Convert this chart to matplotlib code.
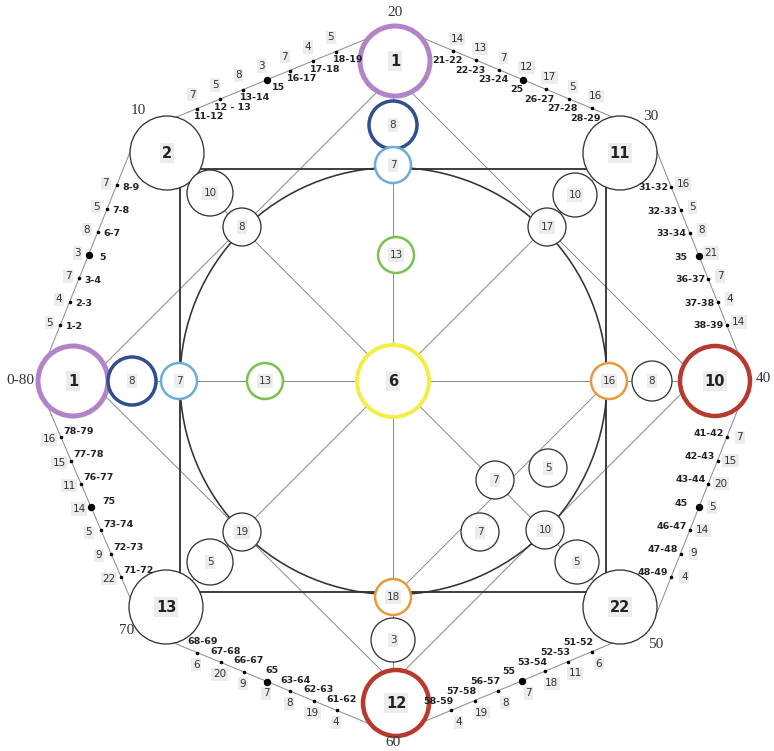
import matplotlib
matplotlib.use("Agg")
import matplotlib.pyplot as plt
from matplotlib.patches import Circle, Rectangle, Polygon

W, H = 774, 751

# values on the outer octagon, one list per decade, in age order
vals_0_10 = [5, 4, 7, 3, 8, 5, 7]
vals_10_20 = [7, 5, 8, 3, 7, 4, 5]
vals_20_30 = [14, 13, 7, 12, 17, 5, 16]
vals_30_40 = [16, 5, 8, 21, 7, 4, 14]
vals_40_50 = [7, 15, 20, 5, 14, 9, 4]
vals_50_60 = [6, 11, 18, 7, 8, 19, 4]
vals_60_70 = [4, 19, 8, 7, 9, 20, 6]
vals_70_80 = [22, 9, 5, 14, 11, 15, 16]

ages_0_10 = ["1-2", "2-3", "3-4", "5", "6-7", "7-8", "8-9"]
ages_10_20 = ["11-12", "12 - 13", "13-14", "15", "16-17", "17-18", "18-19"]
ages_20_30 = ["21-22", "22-23", "23-24", "25", "26-27", "27-28", "28-29"]
ages_30_40 = ["31-32", "32-33", "33-34", "35", "36-37", "37-38", "38-39"]
ages_40_50 = ["41-42", "42-43", "43-44", "45", "46-47", "47-48", "48-49"]
ages_50_60 = ["51-52", "52-53", "53-54", "55", "56-57", "57-58", "58-59"]
ages_60_70 = ["61-62", "62-63", "63-64", "65", "66-67", "67-68", "68-69"]
ages_70_80 = ["71-72", "72-73", "73-74", "75", "76-77", "77-78", "78-79"]

ring_labels = ["0-80", "10", "20", "30", "40", "50", "60", "70"]

# numbers inside the circles
outer_nums = ["1", "1", "10", "12"]          # left, top, right, bottom
corner_nums = ["2", "11", "13", "22"]         # top-left, top-right, bottom-left, bottom-right
line_nums = ["8", "8", "7", "7", "16", "8", "18", "3", "13", "13"]
centre_num = "6"
inner_nums = ["10", "8", "10", "17", "5", "19", "5", "10", "7", "5", "7"]

# ---- layout (pixels) ----
PURPLE, RED = "#b383c8", "#b83a2e"
DBLUE, LBLUE = "#2f4f8f", "#6badd6"
GREEN, ORANGE, YELLOW = "#7bc04f", "#e9993d", "#f3ee45"
INK = "#333333"

outer_pos = [(73, 381, 35, PURPLE, 5), (395, 61, 35, PURPLE, 5),
             (715, 381, 35, RED, 4.5), (396, 703, 33, RED, 4.5)]
corner_pos = [(167, 153, 37), (620, 153, 37), (166, 607, 37), (620, 607, 37)]
line_pos = [(393, 125, 24, DBLUE, 3.5), (132, 381, 24, DBLUE, 3.5),
            (393, 165, 18, LBLUE, 2.5), (179, 381, 18, LBLUE, 2.5),
            (609, 381, 18, ORANGE, 2.5), (652, 381, 20, INK, 1.3),
            (393, 597, 18, ORANGE, 2.5), (393, 640, 22, INK, 1.3),
            (396, 255, 18, GREEN, 2.5), (265, 381, 18, GREEN, 2.5)]
inner_pos = [(210, 193, 23), (242, 227, 19), (575, 195, 22), (547, 227, 19),
             (210, 562, 23), (242, 532, 19), (577, 562, 22), (545, 530, 19),
             (495, 480, 19), (548, 468, 19), (480, 532, 19)]

edges = [
    ((51, 348), (126, 162), vals_0_10, ages_0_10, (-11, -2), (14, 2)),
    ((174, 118), (359, 42), vals_10_20, ages_10_20, (-5, -14), (12, 8)),
    ((430, 41), (615, 118), vals_20_30, ages_20_30, (4, -12), (-6, 10)),
    ((662, 164), (736, 348), vals_30_40, ages_30_40, (12, -3), (-18, 1)),
    ((736, 414), (662, 600), vals_40_50, ages_40_50, (13, 0), (-18, -4)),
    ((615, 642), (428, 720), vals_50_60, ages_50_60, (7, 12), (-13, -9)),
    ((360, 720), (174, 643), vals_60_70, ages_60_70, (-1, 12), (5, -11)),
    ((131, 600), (51, 414), vals_70_80, ages_70_80, (-12, 2), (18, -6)),
]
ring_pos = [(20, 381), (138, 111), (395, 13), (651, 117),
            (763, 378), (656, 645), (393, 743), (127, 631)]

PX = 0.72  # points per pixel at dpi 100
BOX = dict(boxstyle="square,pad=0.15", fc="#ececec", ec="none")

fig = plt.figure(figsize=(W / 100, H / 100), dpi=100)
ax = fig.add_axes([0, 0, 1, 1])
ax.set_xlim(0, W)
ax.set_ylim(H, 0)
ax.axis("off")

thin = dict(color="#8c8c8c", lw=1.0 * PX, zorder=1)

# construction lines
ax.add_patch(Polygon([(394, 75), (697, 378), (393, 682), (89, 380)],
                     closed=True, fill=False, ec="#8c8c8c", lw=1.0 * PX, zorder=1))
ax.plot([393, 393], [61, 703], **thin)
ax.plot([73, 715], [381, 381], **thin)
ax.plot([167, 620], [153, 607], **thin)
ax.plot([620, 166], [153, 607], **thin)
ax.plot([609, 393], [381, 597], **thin)

ax.add_patch(Rectangle((180, 169), 426, 423, fill=False, ec="#3a3a3a",
                       lw=1.9 * PX, zorder=1.5))
ax.add_patch(Circle((393.5, 381), 213.5, fill=False, ec="#333333", lw=1.6 * PX, zorder=1.5))


def node(x, y, r, colour, width, text, bold=False, size=7.5):
    ax.add_patch(Circle((x, y), r, fc="white", ec=colour, lw=width * PX, zorder=3))
    ax.text(x, y, text, ha="center", va="center", fontsize=size,
            color="#222222" if bold else "#3a3a3a",
            fontweight="bold" if bold else "normal", bbox=BOX, zorder=4)


for text, (x, y, r, c, w) in zip(outer_nums, outer_pos):
    node(x, y, r, c, w, text, bold=True, size=10.5)
for text, (x, y, r) in zip(corner_nums, corner_pos):
    node(x, y, r, INK, 1.3, text, bold=True, size=10.5)
for text, (x, y, r, c, w) in zip(line_nums, line_pos):
    node(x, y, r, c, w, text)
node(393, 381, 36, YELLOW, 4, centre_num, bold=True, size=10.5)
for text, (x, y, r) in zip(inner_nums, inner_pos):
    node(x, y, r, INK, 1.3, text)

# outer octagon with ages
for (x0, y0), (x1, y1), vals, ages, voff, aoff in edges:
    dx, dy = x1 - x0, y1 - y0
    ax.plot([x0 - 0.12 * dx, x1 + 0.12 * dx], [y0 - 0.12 * dy, y1 + 0.12 * dy], **thin)
    for k, (v, a) in enumerate(zip(vals, ages), start=1):
        px, py = x0 + dx * k / 8, y0 + dy * k / 8
        big = k == 4
        ax.plot(px, py, "o", color="black", ms=(6 if big else 2.2) * PX, zorder=2)
        ax.text(px + voff[0], py + voff[1], str(v), ha="center", va="center",
                fontsize=7.5, color="#333333", bbox=BOX, zorder=4)
        ax.text(px + aoff[0], py + aoff[1], a, ha="center", va="center",
                fontsize=6.8, color="#222222", fontweight="semibold", zorder=4)

for text, (x, y) in zip(ring_labels, ring_pos):
    ax.text(x, y, text, ha="center", va="center", fontsize=11,
            family="Liberation Serif", color="#333333")

fig.savefig("out.png", dpi=100)
